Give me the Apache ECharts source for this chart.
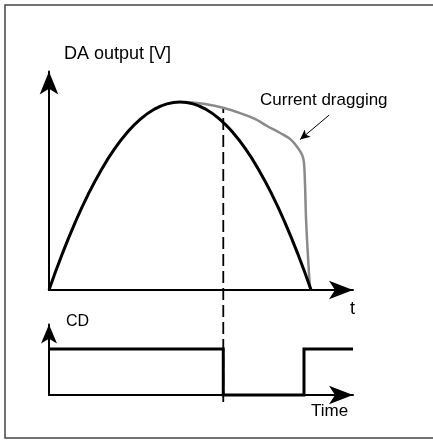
<!DOCTYPE html>
<html>
<head>
<meta charset="utf-8">
<script src="https://cdn.jsdelivr.net/npm/echarts@6/dist/echarts.min.js"></script>
<style>
html,body{margin:0;padding:0;background:#fff;}
#chart{width:433px;height:440px;}
</style>
</head>
<body>
<div id="chart"></div>
<script>
// Ideal DA output (black) - time units, output normalized to peak = 1
const idealTime = [0,0.5,1,1.5,2,2.5,3,3.5,4,4.5,5,5.5,6,6.5,7,7.5,8,8.5,9,9.5,10];
const idealOut  = [0,0.19,0.36,0.51,0.64,0.75,0.84,0.91,0.96,0.99,1.0,0.99,0.96,0.91,0.84,0.75,0.64,0.51,0.36,0.19,0];
// Output with current dragging (gray)
const dragTime = [5.19,5.95,6.68,7.29,7.86,8.32,8.82,9.20,9.47,9.66,9.73,9.77,9.81,9.89,9.96,10.0];
const dragOut  = [1.0,0.989,0.968,0.941,0.910,0.872,0.835,0.803,0.761,0.718,0.676,0.559,0.372,0.160,0.016,0];
// CD signal (step)
const cdTime  = [0,6.65,6.65,9.73,9.73,11.6];
const cdLevel = [1,1,0,0,1,1];
// Moment CD switches (dashed marker)
const eventTime = 6.65;
// Texts
const topAxisName = 'DA output [V]';
const topTimeName = 't';
const bottomAxisName = 'CD';
const bottomTimeName = 'Time';
const annotation = 'Current dragging';

const FONT = '"Liberation Sans", Arial, sans-serif';
const X_MAX = 11.6;

const axisHidden = {show:false};
function arrowAxis(size){
  return {
    show:true,
    symbol:['none','arrow'],
    symbolSize:size,
    lineStyle:{color:'#000',width:2}
  };
}

const chart = echarts.init(document.getElementById('chart'), null, {renderer:'canvas'});
chart.setOption({
  animation:false,
  backgroundColor:'#fff',
  grid:[
    {left:49, width:304, top:71.5, bottom:150},
    {left:49, width:304, top:324.5, bottom:45},
    {left:49, width:304, top:108, bottom:38}
  ],
  xAxis:[
    {gridIndex:0, type:'value', min:0, max:X_MAX, axisLine:arrowAxis([14,24]), axisTick:axisHidden, axisLabel:axisHidden, splitLine:axisHidden},
    {gridIndex:1, type:'value', min:0, max:X_MAX, axisLine:arrowAxis([14,24]), axisTick:axisHidden, axisLabel:axisHidden, splitLine:axisHidden},
    {gridIndex:2, type:'value', min:0, max:X_MAX, show:false}
  ],
  yAxis:[
    {gridIndex:0, type:'value', min:0, max:1.162, axisLine:arrowAxis([14,23]), axisTick:axisHidden, axisLabel:axisHidden, splitLine:axisHidden},
    {gridIndex:1, type:'value', min:0, max:1.53, axisLine:arrowAxis([12,19]), axisTick:axisHidden, axisLabel:axisHidden, splitLine:axisHidden},
    {gridIndex:2, type:'value', min:0, max:1, show:false}
  ],
  series:[
    {
      type:'line', xAxisIndex:2, yAxisIndex:2, showSymbol:false, silent:true,
      data:[[eventTime,0],[eventTime,1]],
      lineStyle:{color:'#000', width:1.8, type:[12,5]}, z:1
    },
    {
      type:'line', xAxisIndex:0, yAxisIndex:0, showSymbol:false, smooth:0.3, clip:false,
      data:dragTime.map((t,i)=>[t,dragOut[i]]),
      lineStyle:{color:'#8a8a8a', width:2.5}, z:2,
      markLine:{
        silent:true, symbol:['none','arrow'], symbolSize:[7,10],
        label:{show:false},
        lineStyle:{color:'#000', width:1, type:'solid'},
        data:[[{coord:[10.69,0.93]},{coord:[9.58,0.80]}]]
      }
    },
    {
      type:'line', xAxisIndex:0, yAxisIndex:0, showSymbol:false, smooth:true, clip:false,
      data:idealTime.map((t,i)=>[t,idealOut[i]]),
      lineStyle:{color:'#000', width:3}, z:3
    },
    {
      type:'line', xAxisIndex:1, yAxisIndex:1, showSymbol:false, clip:false,
      data:cdTime.map((t,i)=>[t,cdLevel[i]]),
      lineStyle:{color:'#000', width:3, join:'miter', cap:'butt'}, z:3
    }
  ],
  graphic:[
    {type:'rect', shape:{x:5,y:5,width:460,height:433}, style:{fill:'none', stroke:'#444', lineWidth:1.5}, silent:true, z:-1},
    {type:'text', x:64, y:54, style:{text:topAxisName, font:'18px '+FONT, fill:'#000', textVerticalAlign:'middle'}},
    {type:'text', x:260, y:100, style:{text:annotation, font:'17px '+FONT, fill:'#000', textVerticalAlign:'middle'}},
    {type:'text', x:350, y:309, style:{text:topTimeName, font:'18px '+FONT, fill:'#000', textVerticalAlign:'middle'}},
    {type:'text', x:66, y:322, style:{text:bottomAxisName, font:'16px '+FONT, fill:'#000', textVerticalAlign:'middle'}},
    {type:'text', x:311, y:411, style:{text:bottomTimeName, font:'17px '+FONT, fill:'#000', textVerticalAlign:'middle'}}
  ]
});
</script>
</body>
</html>
